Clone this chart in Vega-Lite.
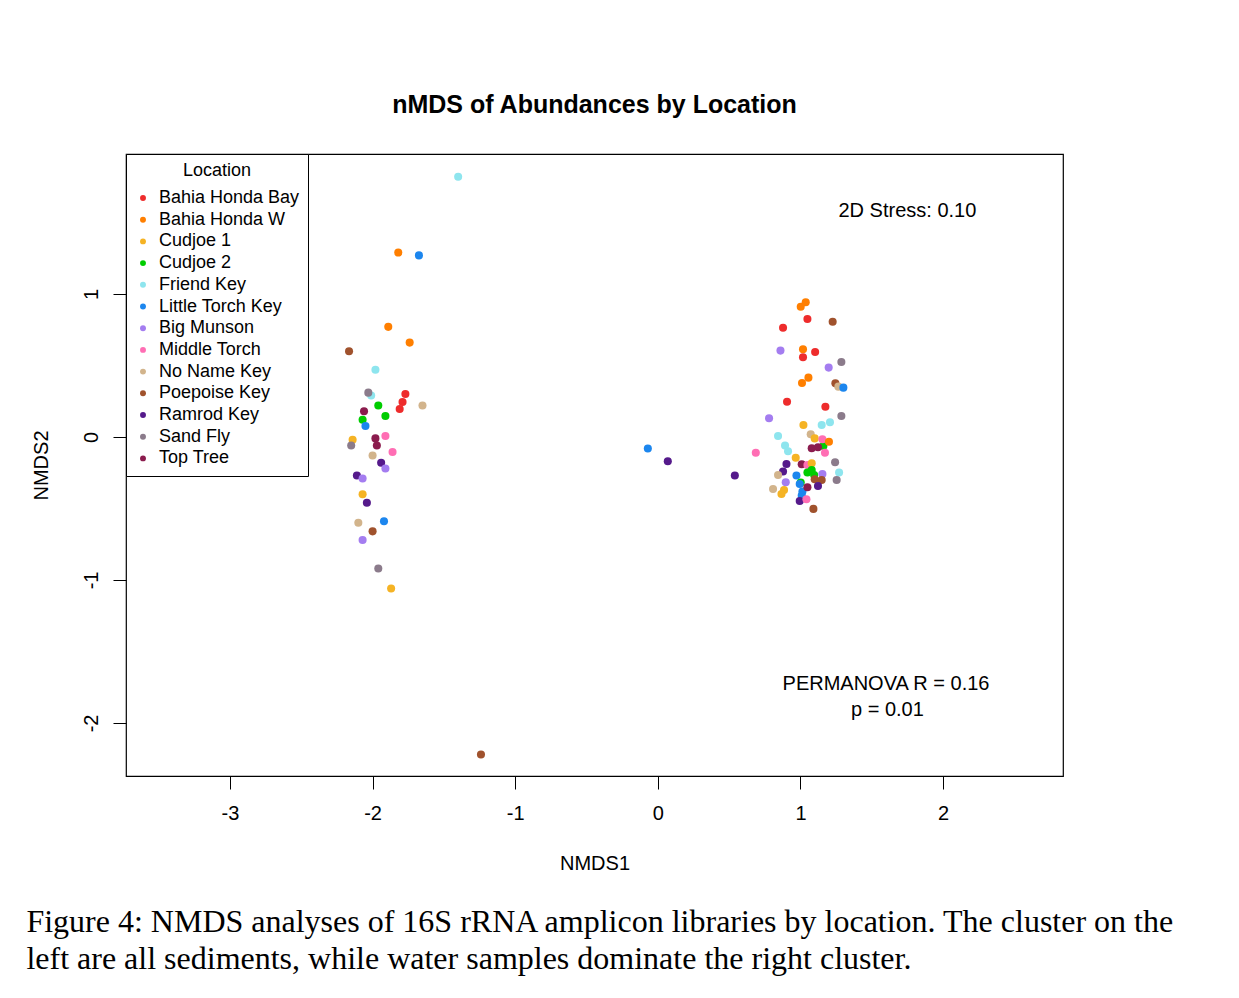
{
  "$schema": "https://vega.github.io/schema/vega-lite/v6.json",
  "background": "white",
  "padding": {"left": 26, "top": 92, "right": 10, "bottom": 10},
  "config": {
    "font": "Liberation Sans",
    "view": {"stroke": "black", "strokeWidth": 1.2},
    "axis": {"grid": false, "domain": false, "tickColor": "black", "tickSize": 13, "tickWidth": 1, "labelFontSize": 20, "titleFontSize": 20, "labelColor": "black", "titleColor": "black", "titleFontWeight": "normal", "labelFont": "Liberation Sans", "titleFont": "Liberation Sans"}
  },
  "title": {
    "text": ["Figure 4: NMDS analyses of 16S rRNA amplicon libraries by location. The cluster on the", "left are all sediments, while water samples dominate the right cluster."],
    "orient": "bottom", "anchor": "start", "font": "Liberation Serif", "fontSize": 32, "fontWeight": "normal", "color": "black", "lineHeight": 37, "offset": 33, "dx": -4
  },
  "vconcat": [
    {
      "width": 937,
      "height": 622,
      "title": {"text": "nMDS of Abundances by Location", "fontSize": 25, "fontWeight": "bold", "anchor": "middle", "frame": "group", "offset": 36, "color": "black", "font": "Liberation Sans"},
      "layer": [
        {
          "data": {"values": [
            {"x": -1.40, "y": 1.82, "loc": "Friend Key"},
            {"x": -1.82, "y": 1.29, "loc": "Bahia Honda W"},
            {"x": -1.675, "y": 1.27, "loc": "Little Torch Key"},
            {"x": -1.89, "y": 0.77, "loc": "Bahia Honda W"},
            {"x": -1.74, "y": 0.66, "loc": "Bahia Honda W"},
            {"x": -2.165, "y": 0.60, "loc": "Poepoise Key"},
            {"x": -1.98, "y": 0.47, "loc": "Friend Key"},
            {"x": -2.01, "y": 0.29, "loc": "Friend Key"},
            {"x": -2.03, "y": 0.31, "loc": "Sand Fly"},
            {"x": -1.77, "y": 0.30, "loc": "Bahia Honda Bay"},
            {"x": -1.79, "y": 0.245, "loc": "Bahia Honda Bay"},
            {"x": -1.81, "y": 0.196, "loc": "Bahia Honda Bay"},
            {"x": -1.65, "y": 0.22, "loc": "No Name Key"},
            {"x": -2.06, "y": 0.18, "loc": "Top Tree"},
            {"x": -1.96, "y": 0.22, "loc": "Cudjoe 2"},
            {"x": -1.91, "y": 0.147, "loc": "Cudjoe 2"},
            {"x": -2.07, "y": 0.12, "loc": "Cudjoe 2"},
            {"x": -2.05, "y": 0.077, "loc": "Little Torch Key"},
            {"x": -2.14, "y": -0.02, "loc": "Cudjoe 1"},
            {"x": -2.15, "y": -0.06, "loc": "Sand Fly"},
            {"x": -1.98, "y": -0.01, "loc": "Top Tree"},
            {"x": -1.97, "y": -0.06, "loc": "Top Tree"},
            {"x": -1.91, "y": 0.007, "loc": "Middle Torch"},
            {"x": -1.86, "y": -0.105, "loc": "Middle Torch"},
            {"x": -2.0, "y": -0.13, "loc": "No Name Key"},
            {"x": -1.94, "y": -0.18, "loc": "Ramrod Key"},
            {"x": -1.91, "y": -0.22, "loc": "Big Munson"},
            {"x": -2.11, "y": -0.27, "loc": "Ramrod Key"},
            {"x": -2.07, "y": -0.29, "loc": "Big Munson"},
            {"x": -2.07, "y": -0.40, "loc": "Cudjoe 1"},
            {"x": -2.04, "y": -0.46, "loc": "Ramrod Key"},
            {"x": -2.10, "y": -0.60, "loc": "No Name Key"},
            {"x": -1.92, "y": -0.59, "loc": "Little Torch Key"},
            {"x": -2.00, "y": -0.66, "loc": "Poepoise Key"},
            {"x": -2.07, "y": -0.72, "loc": "Big Munson"},
            {"x": -1.96, "y": -0.92, "loc": "Sand Fly"},
            {"x": -1.87, "y": -1.06, "loc": "Cudjoe 1"},
            {"x": -1.24, "y": -2.22, "loc": "Poepoise Key"},
            {"x": -0.07, "y": -0.08, "loc": "Little Torch Key"},
            {"x": 0.07, "y": -0.17, "loc": "Ramrod Key"},
            {"x": 0.54, "y": -0.27, "loc": "Ramrod Key"},
            {"x": 1.037, "y": 0.942, "loc": "Bahia Honda W"},
            {"x": 1.002, "y": 0.911, "loc": "Bahia Honda W"},
            {"x": 1.049, "y": 0.825, "loc": "Bahia Honda Bay"},
            {"x": 0.878, "y": 0.764, "loc": "Bahia Honda Bay"},
            {"x": 1.226, "y": 0.806, "loc": "Poepoise Key"},
            {"x": 0.860, "y": 0.604, "loc": "Big Munson"},
            {"x": 1.018, "y": 0.613, "loc": "Bahia Honda W"},
            {"x": 1.103, "y": 0.594, "loc": "Bahia Honda Bay"},
            {"x": 1.018, "y": 0.557, "loc": "Bahia Honda Bay"},
            {"x": 1.198, "y": 0.485, "loc": "Big Munson"},
            {"x": 1.287, "y": 0.524, "loc": "Sand Fly"},
            {"x": 1.056, "y": 0.415, "loc": "Bahia Honda W"},
            {"x": 1.011, "y": 0.378, "loc": "Bahia Honda W"},
            {"x": 1.245, "y": 0.375, "loc": "Poepoise Key"},
            {"x": 1.266, "y": 0.352, "loc": "No Name Key"},
            {"x": 1.301, "y": 0.345, "loc": "Little Torch Key"},
            {"x": 0.906, "y": 0.247, "loc": "Bahia Honda Bay"},
            {"x": 1.175, "y": 0.212, "loc": "Bahia Honda Bay"},
            {"x": 0.780, "y": 0.131, "loc": "Big Munson"},
            {"x": 1.287, "y": 0.147, "loc": "Sand Fly"},
            {"x": 1.021, "y": 0.084, "loc": "Cudjoe 1"},
            {"x": 1.149, "y": 0.084, "loc": "Friend Key"},
            {"x": 1.207, "y": 0.103, "loc": "Friend Key"},
            {"x": 0.843, "y": 0.007, "loc": "Friend Key"},
            {"x": 1.072, "y": 0.019, "loc": "No Name Key"},
            {"x": 1.10, "y": -0.01, "loc": "Cudjoe 1"},
            {"x": 1.161, "y": -0.063, "loc": "Cudjoe 2"},
            {"x": 1.154, "y": -0.016, "loc": "Middle Torch"},
            {"x": 1.20, "y": -0.033, "loc": "Bahia Honda W"},
            {"x": 0.892, "y": -0.06, "loc": "Friend Key"},
            {"x": 0.913, "y": -0.10, "loc": "Friend Key"},
            {"x": 0.687, "y": -0.11, "loc": "Middle Torch"},
            {"x": 1.079, "y": -0.079, "loc": "Top Tree"},
            {"x": 1.123, "y": -0.072, "loc": "Top Tree"},
            {"x": 1.172, "y": -0.11, "loc": "Middle Torch"},
            {"x": 0.967, "y": -0.145, "loc": "Cudjoe 1"},
            {"x": 1.243, "y": -0.177, "loc": "Sand Fly"},
            {"x": 0.902, "y": -0.189, "loc": "Ramrod Key"},
            {"x": 1.009, "y": -0.191, "loc": "Top Tree"},
            {"x": 1.049, "y": -0.196, "loc": "Middle Torch"},
            {"x": 1.079, "y": -0.184, "loc": "Cudjoe 1"},
            {"x": 0.878, "y": -0.242, "loc": "Ramrod Key"},
            {"x": 0.843, "y": -0.266, "loc": "No Name Key"},
            {"x": 1.049, "y": -0.249, "loc": "Cudjoe 2"},
            {"x": 1.079, "y": -0.231, "loc": "Cudjoe 2"},
            {"x": 1.096, "y": -0.266, "loc": "Cudjoe 2"},
            {"x": 0.972, "y": -0.27, "loc": "Little Torch Key"},
            {"x": 0.897, "y": -0.317, "loc": "Big Munson"},
            {"x": 1.154, "y": -0.259, "loc": "Big Munson"},
            {"x": 1.271, "y": -0.249, "loc": "Friend Key"},
            {"x": 1.254, "y": -0.301, "loc": "Sand Fly"},
            {"x": 1.100, "y": -0.296, "loc": "Poepoise Key"},
            {"x": 1.149, "y": -0.301, "loc": "Poepoise Key"},
            {"x": 1.002, "y": -0.319, "loc": "Cudjoe 2"},
            {"x": 0.995, "y": -0.329, "loc": "Little Torch Key"},
            {"x": 1.014, "y": -0.382, "loc": "Little Torch Key"},
            {"x": 0.808, "y": -0.364, "loc": "No Name Key"},
            {"x": 0.885, "y": -0.371, "loc": "Cudjoe 1"},
            {"x": 0.867, "y": -0.399, "loc": "Cudjoe 1"},
            {"x": 1.049, "y": -0.352, "loc": "Top Tree"},
            {"x": 1.123, "y": -0.343, "loc": "Ramrod Key"},
            {"x": 1.009, "y": -0.41, "loc": "Little Torch Key"},
            {"x": 0.995, "y": -0.448, "loc": "Ramrod Key"},
            {"x": 1.042, "y": -0.436, "loc": "Middle Torch"},
            {"x": 1.091, "y": -0.503, "loc": "Poepoise Key"}
          ]},
          "mark": {"type": "circle", "size": 65, "opacity": 1},
          "encoding": {
            "x": {"field": "x", "type": "quantitative", "scale": {"domain": [-3.729, 2.841], "nice": false, "zero": false},
                  "axis": {"values": [-3, -2, -1, 0, 1, 2], "labelExpr": "datum.value + ''", "title": "NMDS1", "labelPadding": 14, "titlePadding": 30}},
            "y": {"field": "y", "type": "quantitative", "scale": {"domain": [-2.371, 1.979], "nice": false, "zero": false},
                  "axis": {"values": [-2, -1, 0, 1], "labelExpr": "datum.value + ''", "title": "NMDS2", "labelAngle": -90, "labelPadding": 12, "titlePadding": 30}},
            "color": {
              "field": "loc", "type": "nominal",
              "scale": {
                "domain": ["Bahia Honda Bay", "Bahia Honda W", "Cudjoe 1", "Cudjoe 2", "Friend Key", "Little Torch Key", "Big Munson", "Middle Torch", "No Name Key", "Poepoise Key", "Ramrod Key", "Sand Fly", "Top Tree"],
                "range": ["#EE2C2C", "#FF7F00", "#F5B324", "#00CD00", "#8EE5EE", "#1C86EE", "#A47DF0", "#FF6EB4", "#D2B48C", "#A0522D", "#551A8B", "#8B7B8B", "#8B1C4E"]
              },
              "legend": {
                "orient": "none", "legendX": 0, "legendY": 0, "title": "Location",
                "strokeColor": "black", "fillColor": "white", "padding": 8, "cornerRadius": 0,
                "titleAnchor": "middle", "titleFontSize": 18, "titleFontWeight": "normal", "titleColor": "black", "titlePadding": 9,
                "labelFontSize": 18, "labelColor": "black", "labelLimit": 400,
                "symbolType": "circle", "symbolSize": 35, "symbolStrokeWidth": 0, "rowPadding": 3.7, "labelOffset": 7, "symbolOffset": 0
              }
            }
          }
        },
        {
          "data": {"values": [{}]},
          "mark": {"type": "text", "fontSize": 20, "font": "Liberation Sans", "color": "black"},
          "encoding": {"x": {"datum": 1.75}, "y": {"datum": 1.58}, "text": {"value": "2D Stress: 0.10"}}
        },
        {
          "data": {"values": [{}]},
          "mark": {"type": "text", "fontSize": 20, "font": "Liberation Sans", "color": "black"},
          "encoding": {"x": {"datum": 1.6}, "y": {"datum": -1.73}, "text": {"value": "PERMANOVA R = 0.16"}}
        },
        {
          "data": {"values": [{}]},
          "mark": {"type": "text", "fontSize": 20, "font": "Liberation Sans", "color": "black"},
          "encoding": {"x": {"datum": 1.61}, "y": {"datum": -1.91}, "text": {"value": "p = 0.01"}}
        }
      ]
    }
  ]
}
